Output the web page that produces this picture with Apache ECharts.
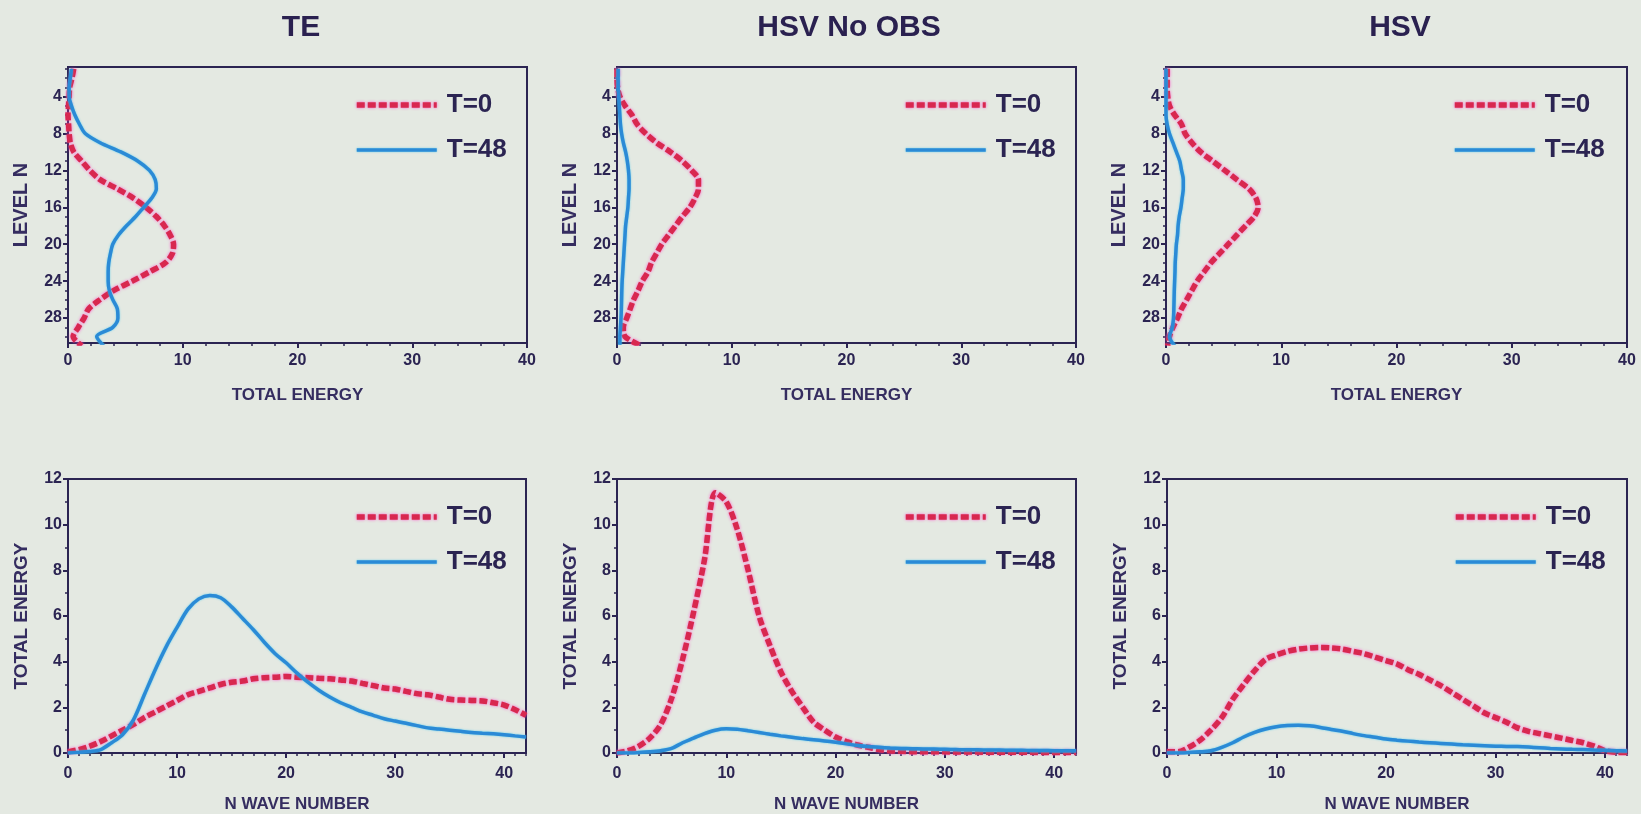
<!DOCTYPE html>
<html><head><meta charset="utf-8">
<script src="https://cdn.jsdelivr.net/npm/echarts@6/dist/echarts.min.js"></script>
<style>html,body{margin:0;padding:0;background:#e4e9e2;}#c{width:1641px;height:814px;}</style>
</head><body><div id="c"></div>
<script>
// ---------- data ----------
const panelTitles = ['TE', 'HSV No OBS', 'HSV'];
const seriesNames = ['T=0', 'T=48'];

// vertical profiles: total energy at each model level
const levels = [1,2,3,4,5,6,7,8,9,10,11,12,13,14,15,16,17,18,19,20,21,22,23,24,25,26,27,28,29,30,31];
const teLevelT0    = [0.5,0.35,0.15,0.1,0.05,0,0.05,0.1,0.2,0.5,1.2,1.9,2.8,4.3,5.7,6.8,7.7,8.4,8.9,9.2,9.1,8.5,7.1,5.6,4.0,2.8,1.8,1.4,0.9,0.45,1.2];
const teLevelT48   = [0.3,0.2,0.1,0.1,0.3,0.6,1.0,1.5,2.8,4.6,6.1,7.1,7.6,7.7,7.3,6.6,5.9,5.1,4.4,3.9,3.7,3.55,3.5,3.5,3.6,3.9,4.3,4.35,3.9,2.5,3.1];
const noObsLevelT0 = [0,0,0.05,0.25,0.7,1.3,1.75,2.5,3.45,4.65,5.7,6.5,7.1,7.1,6.8,6.35,5.7,5.1,4.5,3.9,3.45,3.0,2.7,2.2,1.85,1.45,1.15,0.85,0.55,0.7,2.1];
const noObsLevelT48= [0.1,0.1,0.1,0.15,0.2,0.25,0.3,0.4,0.55,0.75,0.9,1.0,1.05,1.05,1.0,0.95,0.85,0.75,0.7,0.65,0.6,0.55,0.5,0.45,0.42,0.4,0.38,0.35,0.3,0.25,0.25];
const hsvLevelT0   = [0.1,0.1,0.1,0.15,0.3,0.75,1.35,1.65,2.25,3.0,4.05,5.1,6.15,7.2,7.8,8.0,7.65,6.9,6.15,5.4,4.65,3.9,3.3,2.7,2.25,1.8,1.35,1.0,0.6,0.3,0.15];
const hsvLevelT48  = [0,0,0,0,0,0,0.1,0.3,0.6,0.9,1.2,1.35,1.5,1.5,1.4,1.3,1.15,1.05,1.0,0.9,0.85,0.8,0.78,0.75,0.72,0.7,0.68,0.65,0.55,0.3,0.75];

// spectra: total energy by wave number
const waveNumbers = [0,1,2,3,4,5,6,7,8,9,10,11,12,13,14,15,16,17,18,19,20,21,22,23,24,25,26,27,28,29,30,31,32,33,34,35,36,37,38,39,40,41,42];
const teWaveT0    = [0.05,0.15,0.3,0.5,0.75,1.0,1.25,1.55,1.8,2.05,2.3,2.55,2.7,2.85,3.0,3.1,3.15,3.25,3.3,3.32,3.35,3.32,3.3,3.27,3.25,3.2,3.15,3.05,2.95,2.85,2.8,2.7,2.6,2.55,2.45,2.35,2.32,2.3,2.28,2.2,2.1,1.9,1.65];
const teWaveT48   = [0,0.03,0.07,0.15,0.45,0.8,1.45,2.55,3.65,4.65,5.5,6.3,6.75,6.9,6.8,6.4,5.9,5.4,4.85,4.35,3.95,3.5,3.1,2.75,2.45,2.2,2.0,1.8,1.65,1.5,1.4,1.3,1.2,1.1,1.05,1.0,0.95,0.9,0.87,0.84,0.8,0.75,0.7];
const noObsWaveT0 = [0,0.1,0.3,0.65,1.25,2.4,4.1,6.15,8.45,11.4,11.0,9.8,8.0,6.0,4.7,3.55,2.7,2.0,1.35,1.0,0.7,0.5,0.35,0.25,0.15,0.1,0.08,0.06,0.05,0.05,0.05,0.04,0.04,0.04,0.03,0.03,0.03,0.03,0.03,0.02,0.02,0.02,0.02];
const noObsWaveT48= [0,0,0.02,0.05,0.1,0.2,0.45,0.65,0.85,1.0,1.06,1.04,0.97,0.9,0.82,0.75,0.69,0.63,0.58,0.53,0.47,0.4,0.33,0.28,0.25,0.22,0.2,0.19,0.18,0.17,0.16,0.15,0.14,0.14,0.13,0.13,0.12,0.12,0.11,0.11,0.1,0.1,0.1];
const hsvWaveT0   = [0.05,0.05,0.25,0.55,1.0,1.55,2.35,3.0,3.6,4.1,4.3,4.45,4.55,4.6,4.62,4.6,4.55,4.45,4.35,4.2,4.05,3.9,3.65,3.45,3.2,2.95,2.65,2.35,2.05,1.75,1.55,1.35,1.1,0.95,0.85,0.75,0.65,0.55,0.45,0.3,0.1,0.03,0.02];
const hsvWaveT48  = [0,0,0.02,0.05,0.1,0.25,0.45,0.7,0.9,1.05,1.15,1.2,1.22,1.19,1.12,1.03,0.95,0.85,0.76,0.69,0.61,0.56,0.52,0.48,0.45,0.42,0.39,0.36,0.34,0.32,0.3,0.29,0.28,0.26,0.23,0.2,0.18,0.16,0.15,0.13,0.12,0.1,0.09];

// tick labels
const energyTicks = [0,10,20,30,40];
const energyMinorTicks = [2,4,6,8,12,14,16,18,22,24,26,28,32,34,36,38];
const levelTicks = [4,8,12,16,20,24,28];
const levelMinorTicks = [1,2,3,5,6,7,9,10,11,13,14,15,17,18,19,21,22,23,25,26,27,29,30];
const waveTicks = [0,10,20,30,40];
const waveMinorTicks = [1,2,3,4,5,6,7,8,9,11,12,13,14,15,16,17,18,19,21,22,23,24,25,26,27,28,29,31,32,33,34,35,36,37,38,39,41,42];
const spectrumTicks = [0,2,4,6,8,10,12];
const spectrumMinorTicks = [1,3,5,7,9,11];

// ---------- chart ----------
const FONT = '"Liberation Sans", Arial, sans-serif';
const INK = '#2b2452';
const BG = '#e4e9e2';
const RED = '#d8284f';
const BLUE = '#2b8ad6';
const redLine = {color: RED, width: 5.5, type: [8, 3], shadowColor: 'rgba(255,70,200,0.9)', shadowBlur: 3};
const blueLine = {color: BLUE, width: 3.5, type: 'solid', shadowColor: 'rgba(60,200,240,0.8)', shadowBlur: 2};

const gridBoxes = [
  {left: 68,   top: 67,  width: 459, height: 276},
  {left: 617,  top: 67,  width: 459, height: 276},
  {left: 1166, top: 67,  width: 461, height: 276},
  {left: 68,   top: 479, width: 458, height: 274},
  {left: 617,  top: 479, width: 459, height: 274},
  {left: 1167, top: 479, width: 460, height: 274}
];
const titleCenters = [296, 844, 1395];

const profiles = [[teLevelT0, teLevelT48], [noObsLevelT0, noObsLevelT48], [hsvLevelT0, hsvLevelT48]];
const spectra = [[teWaveT0, teWaveT48], [noObsWaveT0, noObsWaveT48], [hsvWaveT0, hsvWaveT48]];

const labelStyle = {color: INK, fontFamily: FONT, fontWeight: 'bold', fontSize: 16};
const nameStyle = {color: '#352d60', fontFamily: FONT, fontWeight: 'bold', fontSize: 17};

function majorAxis(gi, extra) {
  return Object.assign({
    type: 'value', gridIndex: gi,
    nameLocation: 'middle', nameTextStyle: nameStyle,
    axisLine: {show: true, onZero: false, lineStyle: {color: INK, width: 2}},
    axisTick: {show: true, length: 5, lineStyle: {color: INK, width: 2}},
    axisLabel: Object.assign({margin: 6}, labelStyle),
    splitLine: {show: false}
  }, extra);
}
function minorAxis(gi, extra, ticks) {
  return Object.assign({
    type: 'value', gridIndex: gi,
    axisLine: {show: false, onZero: false},
    axisTick: {show: true, length: 3, customValues: ticks, lineStyle: {color: INK, width: 1.5}},
    axisLabel: {show: false},
    splitLine: {show: false}
  }, extra);
}

const option = {
  backgroundColor: BG,
  animation: false,
  title: [], grid: [], xAxis: [], yAxis: [], legend: [], series: []
};

panelTitles.forEach((t, i) => {
  option.title.push({
    text: t, left: titleCenters[i], top: 8, textAlign: 'center',
    textStyle: {color: '#2a2150', fontFamily: FONT, fontWeight: 'bold', fontSize: 30}
  });
});

gridBoxes.forEach((g, gi) => {
  option.grid.push(Object.assign({show: true, borderColor: INK, borderWidth: 2, backgroundColor: 'transparent', containLabel: false}, g));
  const isTop = gi < 3;
  if (isTop) {
    const mx = majorAxis(gi, {min: 0, max: 40, position: 'bottom', name: 'TOTAL ENERGY', nameGap: 44});
    mx.axisTick.customValues = energyTicks;
    mx.axisLabel.customValues = energyTicks;
    mx.axisLabel.margin = 10;
    option.xAxis.push(mx);
    option.xAxis.push(minorAxis(gi, {min: 0, max: 40, position: 'bottom'}, energyMinorTicks));
    const my = majorAxis(gi, {min: 0.8, max: 30.7, inverse: true, position: 'left', name: 'LEVEL N', nameGap: 37,
      nameTextStyle: Object.assign({}, nameStyle, {fontSize: 20})});
    my.axisTick.customValues = levelTicks;
    my.axisLabel.customValues = levelTicks;
    option.yAxis.push(my);
    option.yAxis.push(minorAxis(gi, {min: 0.8, max: 30.7, inverse: true, position: 'left'}, levelMinorTicks));
  } else {
    const mx = majorAxis(gi, {min: 0, max: 42, position: 'bottom', name: 'N WAVE NUMBER', nameGap: 43});
    mx.axisTick.customValues = waveTicks;
    mx.axisLabel.customValues = waveTicks;
    mx.axisLabel.margin = 13;
    option.xAxis.push(mx);
    option.xAxis.push(minorAxis(gi, {min: 0, max: 42, position: 'bottom'}, waveMinorTicks));
    const my = majorAxis(gi, {min: 0, max: 12, position: 'left', name: 'TOTAL ENERGY', nameGap: 37,
      nameTextStyle: Object.assign({}, nameStyle, {fontSize: 19})});
    my.axisTick.customValues = spectrumTicks;
    my.axisLabel.customValues = spectrumTicks;
    option.yAxis.push(my);
    option.yAxis.push(minorAxis(gi, {min: 0, max: 12, position: 'left'}, spectrumMinorTicks));
  }

  option.legend.push({
    data: [
      {name: seriesNames[0], lineStyle: redLine},
      {name: seriesNames[1], lineStyle: blueLine}
    ],
    orient: 'vertical',
    left: g.left + 281, top: g.top + 19,
    itemWidth: 80, itemHeight: 14, itemGap: 17,
    itemStyle: {opacity: 0},
    textStyle: {color: INK, fontFamily: FONT, fontWeight: 'bold', fontSize: 26, lineHeight: 28, padding: [0, 0, 0, 5]}
  });

  const pair = isTop ? profiles[gi] : spectra[gi - 3];
  pair.forEach((vals, si) => {
    const data = isTop ? levels.map((lv, k) => [vals[k], lv]) : waveNumbers.map((n, k) => [n, vals[k]]);
    const red = si === 0;
    option.series.push({
      name: seriesNames[si], type: 'line',
      xAxisIndex: gi * 2, yAxisIndex: gi * 2,
      data: data, showSymbol: false, symbol: 'none', smooth: 0.3,
      lineStyle: red ? redLine : blueLine,
      itemStyle: {color: red ? RED : BLUE},
      z: red ? 2 : 3
    });
  });
});

const chart = echarts.init(document.getElementById('c'), null, {renderer: 'canvas'});
chart.setOption(option);
</script>
</body></html>
